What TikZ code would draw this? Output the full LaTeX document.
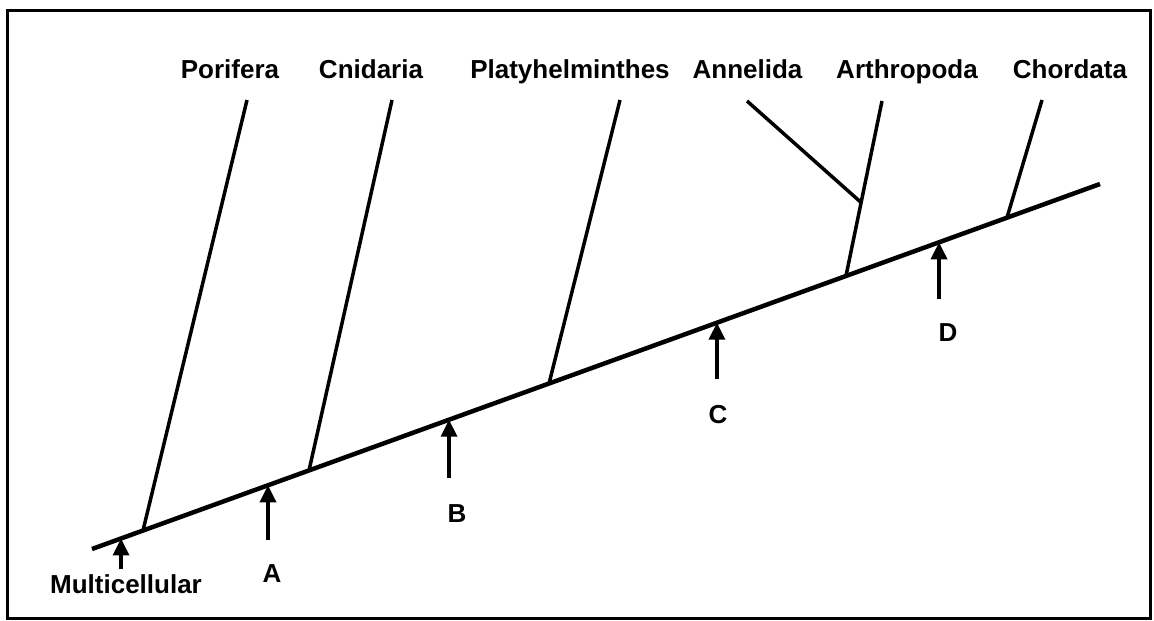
\documentclass[tikz,border=0pt]{standalone}
\usepackage{fontspec}
\setmainfont{Liberation Sans}
\usetikzlibrary{calc,arrows.meta}
\begin{document}
\begin{tikzpicture}[x=1pt,y=-1pt,
  frame/.style={line width=3pt},
  trunk/.style={line width=4.5pt,line cap=butt},
  branch/.style={line width=3.5pt},
  marker/.style={line width=3.5pt,-{Triangle[width=16pt,length=17pt]}},
  lbl/.style={inner sep=0pt,anchor=base,font=\fontsize{26}{30}\selectfont\bfseries}]
\useasboundingbox (0,0) rectangle (1154,621);
\draw[frame] (7.5,10) rectangle (1150,618);
% trunk
\coordinate (m0) at (92,549);
\coordinate (m1) at (1100,184);
\draw[trunk] (m0) -- (m1);
% branch bases on trunk
\coordinate (porB) at ($(m0)!0.0506!(m1)$);
\coordinate (cniB) at ($(m0)!0.2153!(m1)$);
\coordinate (plaB) at ($(m0)!0.4534!(m1)$);
\coordinate (artB) at ($(m0)!0.748!(m1)$);
\coordinate (choB) at ($(m0)!0.9077!(m1)$);
% branch tops
\coordinate (porT) at (247,100);
\coordinate (cniT) at (392,100);
\coordinate (plaT) at (620,100);
\coordinate (artT) at (882,101);
\coordinate (annT) at (747,101);
\coordinate (choT) at (1042,100);
\coordinate (annB) at ($(artB)!0.42!(artT)$);
\draw[branch] (porB) -- (porT);
\draw[branch] (cniB) -- (cniT);
\draw[branch] (plaB) -- (plaT);
\draw[branch] (artB) -- (artT);
\draw[branch] (annB) -- (annT);
\draw[branch] (choB) -- (choT);
% labels
\node[lbl] (lpor) at (230,78) {Porifera};
\node[lbl] (lcni) at (371,78) {Cnidaria};
\node[lbl] (lpla) at (570,78) {Platyhelminthes};
\node[lbl] (lann) at (747.5,78) {Annelida};
\node[lbl] (lart) at (907,78) {Arthropoda};
\node[lbl] (lcho) at (1070,78) {Chordata};
% markers
\coordinate (mulP) at ($(m0)!0.0288!(m1)$);
\coordinate (aP) at ($(m0)!0.1746!(m1)$);
\coordinate (bP) at ($(m0)!0.3542!(m1)$);
\coordinate (cP) at ($(m0)!0.6200!(m1)$);
\coordinate (dP) at ($(m0)!0.8403!(m1)$);
\coordinate (mulT) at ($(mulP)+(0,31)$);
\coordinate (aT) at ($(aP)+(0,55)$);
\coordinate (bT) at ($(bP)+(0,58)$);
\coordinate (cT) at ($(cP)+(0,56)$);
\coordinate (dT) at ($(dP)+(0,57)$);
\draw[marker] (mulT) -- (mulP);
\draw[marker] (aT) -- (aP);
\draw[marker] (bT) -- (bP);
\draw[marker] (cT) -- (cP);
\draw[marker] (dT) -- (dP);
\node[lbl] (lmul) at (126,593) {Multicellular};
\node[lbl] (la) at (272,582) {A};
\node[lbl] (lb) at (457,522) {B};
\node[lbl] (lc) at (718,423) {C};
\node[lbl] (ld) at (948,341) {D};
\end{tikzpicture}
\end{document}
